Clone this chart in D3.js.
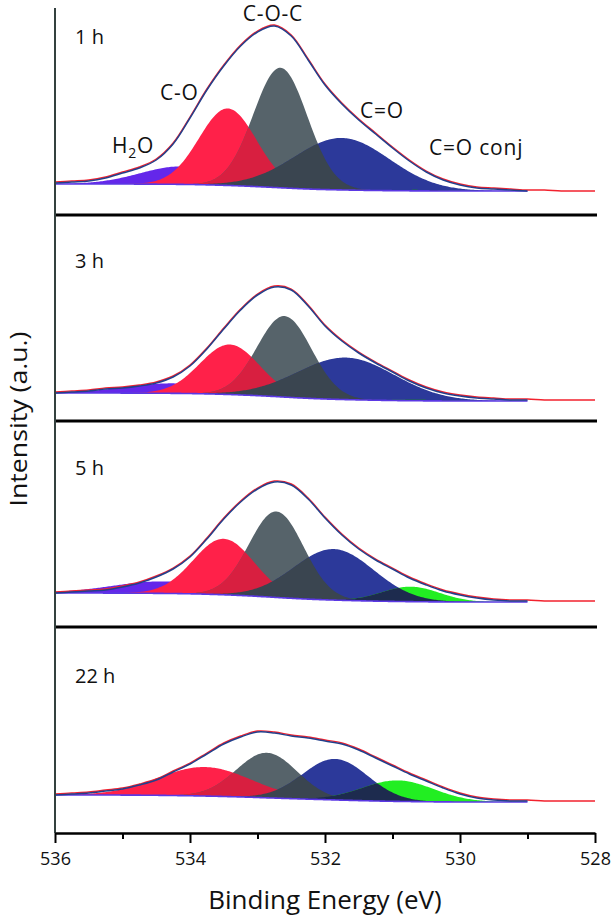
<!DOCTYPE html>
<html><head><meta charset="utf-8">
<script src="https://cdn.jsdelivr.net/npm/d3@7"></script>
<style>
body{margin:0;background:#fff}
svg{display:block}
text{font-family:"Open Sans",sans-serif;fill:#111}
</style>
</head><body>
<svg id="c" width="614" height="919"></svg>
<script>
// ---------- data ----------
const timeLabels = ["1 h", "3 h", "5 h", "22 h"];
const peakNames = ["H2O", "C-O", "C-O-C", "C=O", "C=O conj"];
const peakColors = ["#6427ea", "#ff2149", "#56636a", "#2c399a", "#22ee22"];
// fitted components per panel: [H2O, C-O, C-O-C, C=O, C=O conj]
const peakCenters = [
  [534.12, 533.44, 532.66, 531.75, 530.6],
  [534.25, 533.41, 532.60, 531.69, 530.6],
  [534.40, 533.50, 532.72, 531.87, 530.73],
  [534.40, 533.78, 532.86, 531.85, 530.92]
];
const peakHeights = [
  [18, 77, 120, 52, 1],
  [10, 50, 81, 42, 1],
  [12, 56, 86, 51, 15],
  [1, 29, 45, 41, 21]
];
const peakFWHM = [
  [1.45, 1.00, 0.94, 1.66, 1.0],
  [1.65, 1.04, 0.95, 1.70, 1.0],
  [1.75, 1.06, 0.95, 1.40, 1.0],
  [1.60, 1.62, 1.06, 1.14, 1.25]
];
const bgHigh = [7, 4, 10, 14];   // background at 536 eV
const bgLow  = [0, -4, 1, 7];    // background at 528 eV
// measured spectra, every 0.25 eV from 536 to 528 eV
const measuredE = [536, 535.75, 535.5, 535.25, 535, 534.75, 534.5, 534.25, 534, 533.75, 533.5,
  533.25, 533, 532.75, 532.5, 532.25, 532, 531.75, 531.5, 531.25, 531, 530.75, 530.5, 530.25,
  530, 529.75, 529.5, 529.25, 529, 528.75, 528.5, 528.25, 528];
const measured1h  = [8, 9, 10, 13, 18, 23, 31, 47, 73, 101, 125, 145, 159, 165, 155, 131, 106, 87, 71, 57, 43, 30, 19, 11, 6, 3, 2, 1, 0, 0, -1, -1, -1];
const measured3h  = [4, 5, 6, 8, 9, 11, 14, 20, 31, 48, 68, 87, 102, 110, 107, 91, 71, 56, 44, 34, 25, 16, 9, 4, 1, -1, -2, -3, -3, -4, -4, -4, -4];
const measured5h  = [10, 11, 12, 13, 16, 20, 26, 34, 46, 64, 84, 101, 114, 121, 118, 104, 85, 68, 54, 43, 34, 25, 18, 12, 8, 5, 3, 2, 2, 1, 1, 1, 1];
const measured22h = [14, 15, 16, 18, 20, 24, 29, 37, 45, 55, 65, 72, 77, 76, 73, 71, 68, 65, 59, 51, 43, 35, 28, 21, 15, 11, 9, 8, 8, 7, 7, 7, 7];
const measured = [measured1h, measured3h, measured5h, measured22h];
const fitEnd = 529.0;
const majorTicks = [536, 534, 532, 530, 528];
const minorTicks = [535, 533, 531, 529];
const overlapPairs = [[1, 2, "#d81f40"], [2, 3, "#3a4550"], [3, 4, "#1d2b4e"]];

// ---------- layout ----------
const svg = d3.select("#c");
const x = d3.scaleLinear().domain([536, 528]).range([55, 595]);
const panelH = 206;
const panelBottoms = [215, 421, 627, 833];
const labelBaselines = [44, 268, 475, 683];
const shape = (E, c, h, w) => {
  const t = (E - c) / w;
  return h * Math.exp(-4 * Math.LN2 * t * t);
};
const energies = d3.range(0, 401).map(i => +(536 - i * 0.02).toFixed(2));
const nE = energies.length;

timeLabels.forEach((lab, p) => {
  const bottom = panelBottoms[p];
  const y = d3.scaleLinear().domain([-24, 182]).range([bottom, bottom - panelH]);
  const comps = peakNames.map((n, k) => energies.map(E => shape(E, peakCenters[p][k], peakHeights[p][k], peakFWHM[p][k])));
  const sum = energies.map((E, i) => d3.sum(comps, c => c[i]));
  const cum = new Array(nE); let acc = 0;
  for (let i = nE - 1; i >= 0; i--) { acc += sum[i]; cum[i] = acc; }
  const bg = energies.map((E, i) => bgLow[p] + (bgHigh[p] - bgLow[p]) * cum[i] / acc);
  const g = svg.append("g");
  const area = vals => d3.area()
    .x((d, i) => x(energies[i]))
    .y0((d, i) => y(bg[i]))
    .y1((d, i) => y(bg[i] + vals[i]))(energies);
  [0, 1, 2, 3, 4].forEach(k => {
    g.append("path").attr("d", area(comps[k])).attr("fill", peakColors[k]);
  });
  overlapPairs.forEach(([a, b, col]) => {
    const m = energies.map((E, i) => Math.min(comps[a][i], comps[b][i]));
    g.append("path").attr("d", area(m)).attr("fill", col);
  });
  // background line
  const fitIdx = energies.map((E, i) => i).filter(i => energies[i] >= fitEnd);
  g.append("path")
    .attr("d", d3.line().x(i => x(energies[i])).y(i => y(bg[i]))(fitIdx))
    .attr("fill", "none").attr("stroke", "#5b38e4").attr("stroke-width", 1.6);
  // measured (red) and fit envelope (blue)
  const pts = measuredE.map((E, i) => [E, measured[p][i]]);
  const ln = d3.line().x(d => x(d[0])).y(d => y(d[1])).curve(d3.curveCatmullRom.alpha(0.5));
  g.append("path").attr("d", ln(pts)).attr("transform", "translate(0,-1)")
    .attr("fill", "none").attr("stroke", "#f2222e").attr("stroke-width", 1.4);
  g.append("path").attr("d", ln(pts.filter(d => d[0] >= fitEnd)))
    .attr("fill", "none").attr("stroke", "#22408c").attr("stroke-width", 1.5);
  svg.append("text").attr("x", 75).attr("y", labelBaselines[p])
    .attr("font-size", 20).text(lab);
});

// peak labels in first panel
const lbl = [
  {t: "C-O-C", x: 273, y: 21, a: "middle"},
  {t: "C-O", x: 160, y: 100, a: "start"},
  {t: "C=O", x: 360, y: 118, a: "start"},
  {t: "C=O conj", x: 429, y: 155, a: "start"}
];
lbl.forEach(d => svg.append("text").attr("x", d.x).attr("y", d.y).attr("text-anchor", d.a)
  .attr("font-size", 21).attr("letter-spacing", 0.8).text(d.t));
const h2o = svg.append("text").attr("x", 112).attr("y", 153).attr("font-size", 21).attr("letter-spacing", 0.8);
h2o.append("tspan").text("H");
h2o.append("tspan").attr("font-size", 14).attr("dy", 5).text("2");
h2o.append("tspan").attr("dy", -5).text("O");

// separators
panelBottoms.slice(0, 3).forEach(b => {
  svg.append("line").attr("x1", 55).attr("x2", 597).attr("y1", b).attr("y2", b)
    .attr("stroke", "#000").attr("stroke-width", 3);
});

// left axis
svg.append("line").attr("x1", 55).attr("x2", 55).attr("y1", 8).attr("y2", 833)
  .attr("stroke", "#34413f").attr("stroke-width", 2);

// bottom axis
const ax = svg.append("g").attr("transform", "translate(0,833)")
  .call(d3.axisBottom(x).tickValues(majorTicks).tickSize(10).tickSizeOuter(0).tickFormat(d3.format("d")));
ax.select(".domain").attr("stroke", "#000").attr("stroke-width", 2.5);
ax.selectAll(".tick line").attr("stroke", "#000").attr("stroke-width", 2);
ax.selectAll(".tick text").attr("font-size", 18).attr("font-family", "Open Sans").attr("fill", "#111").attr("dy", "1.05em");
const axm = svg.append("g").attr("transform", "translate(0,833)")
  .call(d3.axisBottom(x).tickValues(minorTicks).tickSize(6).tickSizeOuter(0).tickFormat(""));
axm.select(".domain").remove();
axm.selectAll(".tick line").attr("stroke", "#000").attr("stroke-width", 2);

// axis titles
svg.append("text").attr("x", 325).attr("y", 909).attr("text-anchor", "middle")
  .attr("font-size", 26).text("Binding Energy (eV)");
svg.append("text").attr("transform", "translate(27,419) rotate(-90)").attr("text-anchor", "middle")
  .attr("font-size", 24).attr("textLength", 175).attr("lengthAdjust", "spacingAndGlyphs")
  .text("Intensity (a.u.)");
</script>
</body></html>
